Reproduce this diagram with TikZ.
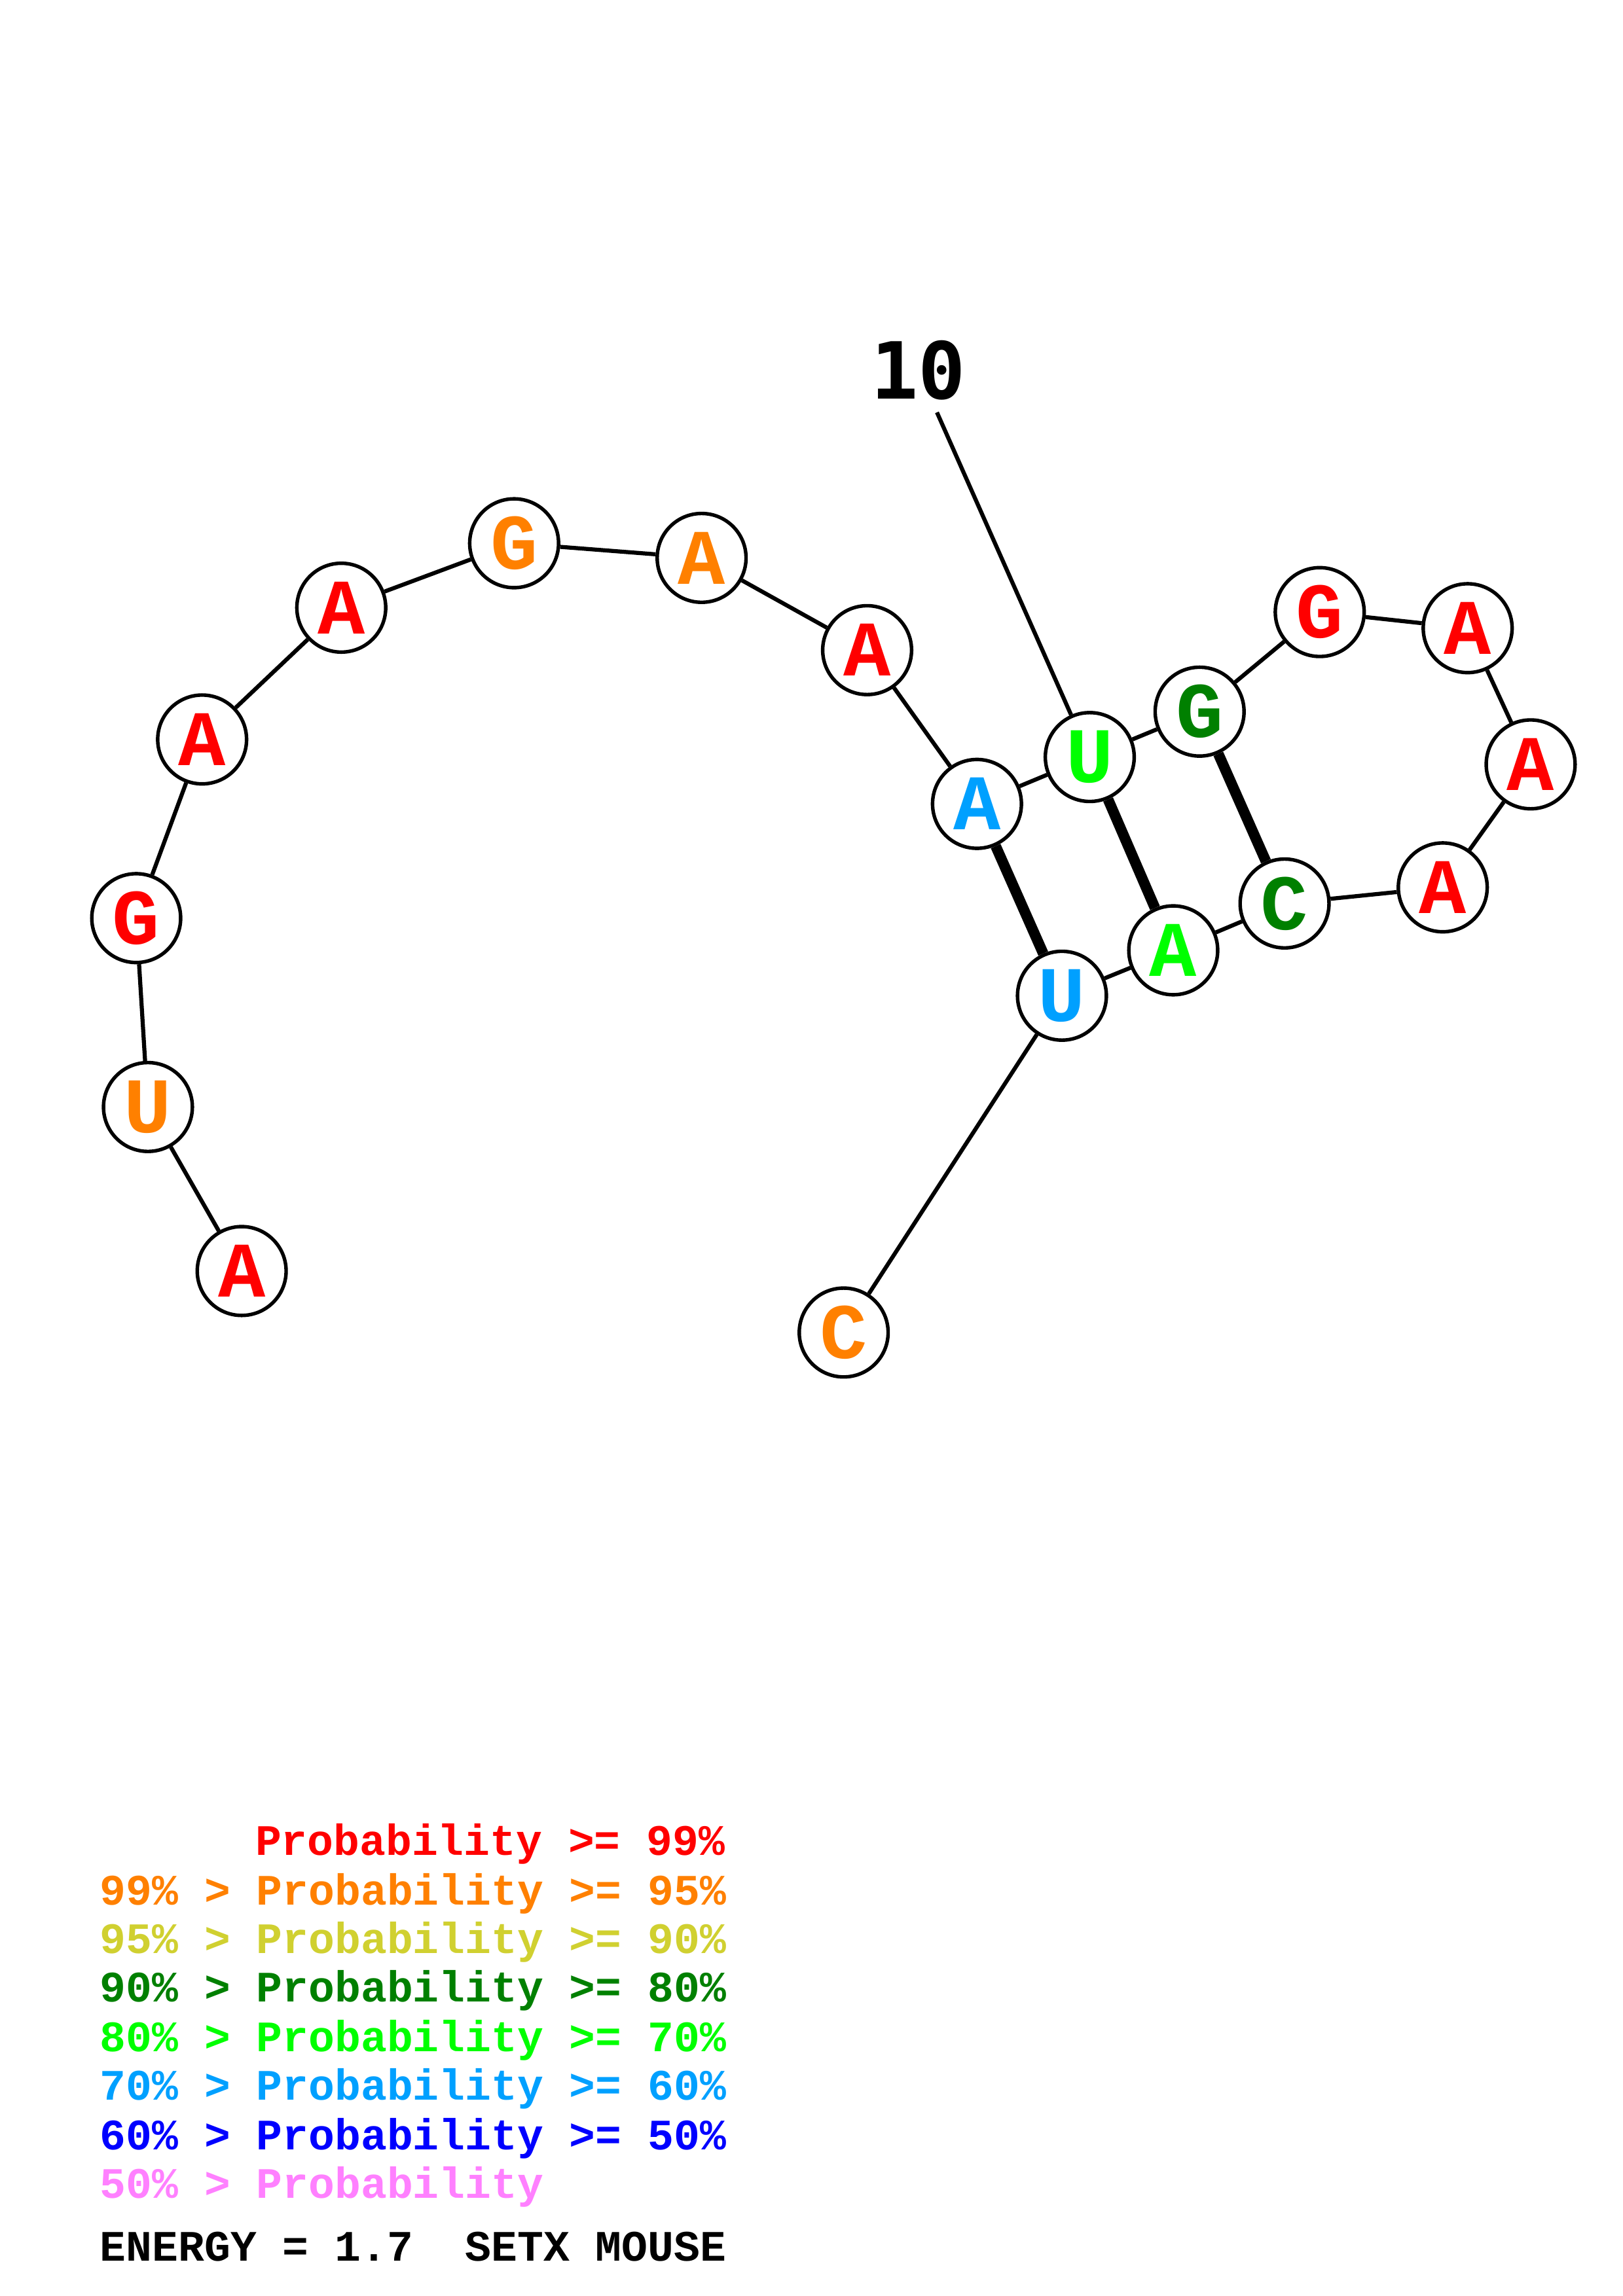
\documentclass[tikz,border=0pt]{standalone}
\usepackage{fontspec}
\newfontfamily\cour{Liberation Mono}
\newfontfamily\dvm{DejaVu Sans Mono}
\definecolor{p99}{RGB}{255,0,0}
\definecolor{p95}{RGB}{255,128,0}
\definecolor{p90}{RGB}{208,208,48}
\definecolor{p80}{RGB}{0,128,0}
\definecolor{p70}{RGB}{0,255,0}
\definecolor{p60}{RGB}{0,160,255}
\definecolor{p50}{RGB}{0,0,255}
\definecolor{p00}{RGB}{255,128,255}
\begin{document}
\begin{tikzpicture}[x=0.18953mm,y=-0.18953mm,
  base/.style={circle,draw,line width=1.3pt,fill=white,minimum size=11.5mm,inner sep=0pt,
    font=\cour\bfseries\fontsize{29}{29}\selectfont},
  bb/.style={line width=1.5pt},
  pairline/.style={line width=3.9pt},
  leg/.style={anchor=base west,inner sep=0pt,font=\cour\bfseries\fontsize{16}{16}\selectfont}]
\useasboundingbox[fill=white] (0,0) rectangle (1108,1568);
\node[base,text=p99] (n1) at (165,868) {A};
\node[base,text=p95] (n2) at (101,756) {U};
\node[base,text=p99] (n3) at (93,627) {G};
\node[base,text=p99] (n4) at (138,505) {A};
\node[base,text=p99] (n5) at (233,415) {A};
\node[base,text=p95] (n6) at (351,371) {G};
\node[base,text=p95] (n7) at (479,381) {A};
\node[base,text=p99] (n8) at (592,444) {A};
\node[base,text=p60] (n9) at (667,549) {A};
\node[base,text=p70] (n10) at (744,517) {U};
\node[base,text=p80] (n11) at (819,486) {G};
\node[base,text=p99] (n12) at (901,418) {G};
\node[base,text=p99] (n13) at (1002,429) {A};
\node[base,text=p99] (n14) at (1045,522) {A};
\node[base,text=p99] (n15) at (985,606) {A};
\node[base,text=p80] (n16) at (877,617) {C};
\node[base,text=p70] (n17) at (801,649) {A};
\node[base,text=p60] (n18) at (725,680) {U};
\node[base,text=p95] (n19) at (576,910) {C};
\foreach \a/\b in {1/2,2/3,3/4,4/5,5/6,6/7,7/8,8/9,9/10,10/11,11/12,12/13,13/14,14/15,15/16,16/17,17/18,18/19}
  \draw[bb] (n\a) -- (n\b);
\draw[pairline] (n9) -- (n18);
\draw[pairline] (n10) -- (n17);
\draw[pairline] (n11) -- (n16);
\node[font=\dvm\bfseries\fontsize{29}{29}\selectfont,inner sep=1.5mm] (l10) at (627,253) {10};
\draw[bb] (l10) -- (n10);
\node[leg,text=p99] (g1) at (174,1267) {Probability >= 99\%};
\node[leg,text=p95] (g2) at (68,1301) {99\% > Probability >= 95\%};
\node[leg,text=p90] (g3) at (68,1334) {95\% > Probability >= 90\%};
\node[leg,text=p80] (g4) at (68,1367) {90\% > Probability >= 80\%};
\node[leg,text=p70] (g5) at (68,1401) {80\% > Probability >= 70\%};
\node[leg,text=p60] (g6) at (68,1434) {70\% > Probability >= 60\%};
\node[leg,text=p50] (g7) at (68,1468) {60\% > Probability >= 50\%};
\node[leg,text=p00] (g8) at (68,1501) {50\% > Probability};
\node[leg,text=black] (g9) at (68,1544) {ENERGY = 1.7\ \ SETX MOUSE};
\end{tikzpicture}
\end{document}
